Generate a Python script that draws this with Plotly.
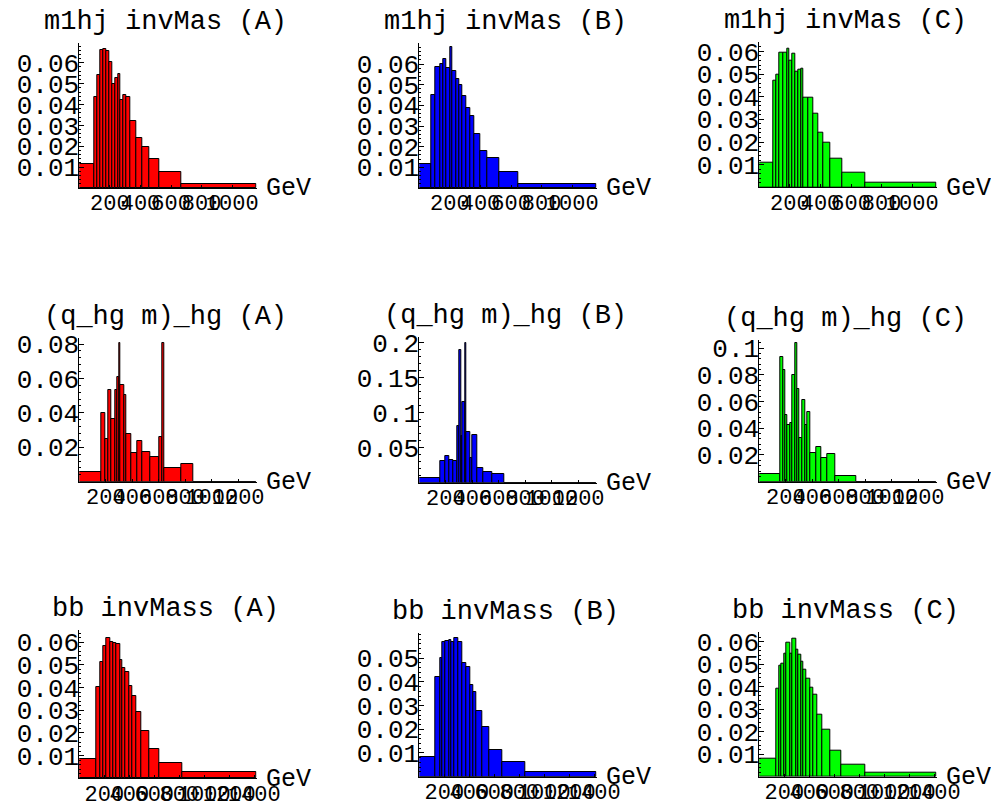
import plotly.graph_objects as go

FONT = "Liberation Mono, Courier New, monospace"

# ---------------- data (bin edges in GeV, bin heights) ----------------
M1HJ_A_EDGES = [0, 98, 118, 135, 157, 175, 196, 218, 233, 255, 266, 288, 305, 332, 371, 415, 458, 523, 670, 1160]
M1HJ_A_VALUES = [0.0114, 0.0437, 0.054, 0.066, 0.0667, 0.0659, 0.0606, 0.050, 0.0529, 0.0548, 0.0424,
                 0.0444, 0.0437, 0.032, 0.0238, 0.0198, 0.014, 0.0075, 0.0021]

M1HJ_B_EDGES = [0, 81, 103, 135, 157, 175, 201, 218, 240, 262, 284, 305, 332, 360, 397, 447, 523, 647, 1160]
M1HJ_B_VALUES = [0.0116, 0.0452, 0.0584, 0.0602, 0.0624, 0.0581, 0.0685, 0.0565, 0.0527, 0.05, 0.0444,
                 0.0387, 0.0347, 0.0261, 0.0181, 0.0145, 0.0077, 0.0021]

M1HJ_C_EDGES = [0, 92, 110, 131, 158, 180, 197, 219, 234, 256, 274, 289, 322, 351, 383, 416, 464, 541, 694, 1160]
M1HJ_C_VALUES = [0.0109, 0.0469, 0.0496, 0.0596, 0.0596, 0.0613, 0.0557, 0.0591, 0.051, 0.0518, 0.0525,
                 0.0397, 0.0397, 0.0326, 0.0241, 0.0197, 0.0125, 0.0066, 0.0022]

QHG_A_EDGES = [0, 164, 194, 219, 244, 269, 287, 300, 312, 337, 357, 390, 440, 478, 534, 602, 629, 642, 768, 861, 1340]
QHG_A_VALUES = [0.0054, 0.0402, 0.0249, 0.053, 0.0363, 0.053, 0.0608, 0.0806, 0.0563, 0.0505, 0.0276,
                0.0169, 0.0239, 0.0171, 0.0146, 0.0262, 0.0806, 0.0078, 0.0103, 0.0]

QHG_B_EDGES = [0, 161, 194, 226, 257, 287, 302, 315, 327, 345, 358, 383, 400, 438, 483, 551, 639, 1340]
QHG_B_VALUES = [0.0063, 0.0303, 0.0385, 0.0327, 0.0303, 0.0808, 0.189, 0.0663, 0.115, 0.2, 0.0721,
                0.0351, 0.0678, 0.0207, 0.0159, 0.0125, 0.0]

QHG_C_EDGES = [0, 162, 181, 194, 214, 232, 252, 270, 287, 302, 322, 345, 365, 388, 428, 471, 513, 572, 730, 1340]
QHG_C_VALUES = [0.006, 0.0933, 0.0833, 0.05, 0.0425, 0.0438, 0.08, 0.104, 0.0693, 0.0325, 0.0608,
                0.0425, 0.0518, 0.0218, 0.0263, 0.0175, 0.0208, 0.0045, 0.0]

BB_A_EDGES = [0, 133, 166, 192, 219, 246, 272, 299, 326, 347, 371, 398, 427, 454, 499, 561, 641, 828, 1420]
BB_A_VALUES = [0.0085, 0.0401, 0.0515, 0.0584, 0.0618, 0.06, 0.0596, 0.0591, 0.0522, 0.0488, 0.0471,
               0.0409, 0.0363, 0.0294, 0.0209, 0.0129, 0.0069, 0.0026]

BB_B_EDGES = [0, 125, 166, 187, 206, 240, 259, 278, 313, 347, 379, 406, 432, 459, 504, 558, 664, 851, 1420]
BB_B_VALUES = [0.0085, 0.042, 0.05, 0.057, 0.0573, 0.0577, 0.057, 0.0587, 0.057, 0.0479, 0.0462,
               0.0387, 0.0359, 0.0277, 0.0211, 0.0113, 0.0061, 0.0021]

BB_C_EDGES = [0, 133, 160, 179, 200, 219, 246, 267, 294, 312, 334, 352, 379, 406, 432, 464, 507, 566, 659, 846, 1420]
BB_C_VALUES = [0.0079, 0.0393, 0.0493, 0.0504, 0.0545, 0.0593, 0.0545, 0.0615, 0.0563, 0.0541, 0.0511,
               0.0477, 0.0437, 0.0397, 0.0363, 0.0274, 0.021, 0.0114, 0.0055, 0.0018]

TITLES = [
    ["m1hj invMas (A)", "m1hj invMas (B)", "m1hj invMas (C)"],
    ["(q_hg m)_hg (A)", "(q_hg m)_hg (B)", "(q_hg m)_hg (C)"],
    ["bb invMass (A)", "bb invMass (B)", "bb invMass (C)"],
]
COLORS = ["#ff0000", "#0000ff", "#00ff00"]

X_MAX = [1160, 1340, 1420]
X_TICKS = [[200, 400, 600, 800, 1000],
           [200, 400, 600, 800, 1000, 1200],
           [200, 400, 600, 800, 1000, 1200, 1400]]

Y_MAX = [[0.0695, 0.0702, 0.0643],
         [0.0835, 0.208, 0.106],
         [0.0654, 0.0606, 0.0644]]
Y_TICKS = [
    [[0.01, 0.02, 0.03, 0.04, 0.05, 0.06]] * 3,
    [[0.02, 0.04, 0.06, 0.08], [0.05, 0.1, 0.15, 0.2], [0.02, 0.04, 0.06, 0.08, 0.1]],
    [[0.01, 0.02, 0.03, 0.04, 0.05, 0.06], [0.01, 0.02, 0.03, 0.04, 0.05], [0.01, 0.02, 0.03, 0.04, 0.05, 0.06]],
]
Y_MINOR = [[0.002, 0.002, 0.002], [0.004, 0.01, 0.004], [0.002, 0.002, 0.002]]

DATA = [
    [(M1HJ_A_EDGES, M1HJ_A_VALUES), (M1HJ_B_EDGES, M1HJ_B_VALUES), (M1HJ_C_EDGES, M1HJ_C_VALUES)],
    [(QHG_A_EDGES, QHG_A_VALUES), (QHG_B_EDGES, QHG_B_VALUES), (QHG_C_EDGES, QHG_C_VALUES)],
    [(BB_A_EDGES, BB_A_VALUES), (BB_B_EDGES, BB_B_VALUES), (BB_C_EDGES, BB_C_VALUES)],
]

# ---------------- layout geometry (screen pixels; page body has an 8px margin) ----------------
OFF = 8
W, H = 999 - OFF, 806 - OFF
COL_X = [(79.3, 256.7), (419.3, 596.7), (759.3, 936.7)]
PANEL_Y = [
    [(43, 188), (43, 188), (41.7, 187.3)],
    [(338, 481.7), (337, 482.7), (340, 481.7)],
    [(630, 778.3), (633, 776.7), (631.7, 776.7)],
]


def px_x(p):
    return (p - OFF) / W


def px_y(p):
    return 1 - (p - OFF) / H


def fmt(v):
    return ("%.2f" % v).rstrip("0")


fig = go.Figure()
annotations = []
layout = {}
idx = 0
for r in range(3):
    for c in range(3):
        idx += 1
        sfx = "" if idx == 1 else str(idx)
        edges, vals = DATA[r][c]
        centers = [(edges[i] + edges[i + 1]) / 2 for i in range(len(vals))]
        widths = [edges[i + 1] - edges[i] for i in range(len(vals))]
        fig.add_trace(go.Bar(
            x=centers, y=vals, width=widths,
            marker=dict(color=COLORS[c], line=dict(color="black", width=1)),
            xaxis="x" + sfx, yaxis="y" + sfx, showlegend=False,
        ))
        x0, x1 = COL_X[c]
        ytop, ybot = PANEL_Y[r][c]
        layout["xaxis" + sfx] = dict(
            domain=[px_x(x0), px_x(x1)], anchor="y" + sfx, range=[0, X_MAX[r]],
            tickmode="array", tickvals=X_TICKS[r], ticktext=[str(t) for t in X_TICKS[r]],
            tickangle=0, ticks="inside", ticklen=3, tickcolor="black",
            ticklabelstandoff=-5,
            showline=True, linecolor="black", linewidth=1,
            showgrid=False, zeroline=False, automargin=False,
            tickfont=dict(family=FONT, size=22, color="black"),
        )
        layout["yaxis" + sfx] = dict(
            domain=[px_y(ybot), px_y(ytop)], anchor="x" + sfx, range=[0, Y_MAX[r][c]],
            tickmode="array", tickvals=Y_TICKS[r][c], ticktext=[fmt(t) for t in Y_TICKS[r][c]],
            ticks="inside", ticklen=5, tickcolor="black",
            ticklabelstandoff=-6,
            minor=dict(ticks="inside", ticklen=2, tickcolor="black", dtick=Y_MINOR[r][c], showgrid=False),
            showline=True, linecolor="black", linewidth=1,
            showgrid=False, zeroline=False, automargin=False,
            tickfont=dict(family=FONT, size=26, color="black"),
        )
        annotations.append(dict(
            text=TITLES[r][c], xref="paper", yref="paper",
            x=px_x((x0 + x1) / 2 - 3), y=px_y(ytop - 21),
            xanchor="center", yanchor="middle", showarrow=False,
            font=dict(family=FONT, size=27, color="black"),
        ))
        annotations.append(dict(
            text="GeV", xref="paper", yref="paper",
            x=px_x(x1 + 7), y=px_y(ybot + 1),
            xanchor="left", yanchor="middle", showarrow=False,
            font=dict(family=FONT, size=25, color="black"),
        ))

fig.update_layout(
    width=W, height=H, margin=dict(l=0, r=0, t=0, b=0, pad=0, autoexpand=False),
    paper_bgcolor="white", plot_bgcolor="white",
    annotations=annotations, bargap=0, **layout,
)
fig.write_html("out.html")
